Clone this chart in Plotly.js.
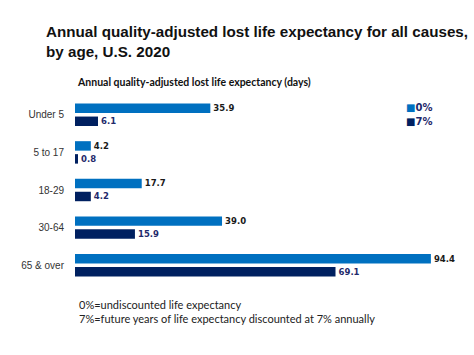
<!DOCTYPE html>
<html><head><meta charset="utf-8">
<script src="https://cdn.plot.ly/plotly-3.0.1.min.js"></script>
<style>html,body{margin:0;padding:0;background:#fff}#c{width:474px;height:355px}</style>
</head><body><div id="c"></div>
<script>
const categories = ["Under 5", "5 to 17", "18-29", "30-64", "65 & over"];
const seriesNames = ["0%", "7%"];
const values0 = [35.9, 4.2, 17.7, 39.0, 94.4];
const values7 = [6.1, 0.8, 4.2, 15.9, 69.1];
const colors = ["#0070C0", "#002060"];
const labelColors = ["#1a1a1a", "#1F2A6B"];

const sans = "'Liberation Sans', Arial, sans-serif";
const verd = "'DejaVu Sans', Verdana, sans-serif";
const cal = "Lato, 'Open Sans', sans-serif";

function mk(name, vals, i) {
  return {
    type: 'bar', orientation: 'h', name: name,
    x: vals, y: categories,
    marker: {color: colors[i]},
    text: vals.map(v => v.toFixed(1)),
    textposition: 'outside',
    textfont: {family: verd, size: 9, color: labelColors[i], weight: 'bold'},
    cliponaxis: false, hoverinfo: 'none'
  };
}
const data = [mk(seriesNames[0], values0, 0), mk(seriesNames[1], values7, 1)];

// plot area: x 75..452, y 96..284
const py = px => (284 - px) / 188;
const legendAnn = seriesNames.map((n, i) => ({
  xref: 'paper', yref: 'paper', x: 0.873, y: 1 - (0.06 + 0.075 * i), xanchor: 'left', yanchor: 'middle',
  showarrow: false,
  text: "<span style='color:" + colors[i] + "'>■</span>" + n,
  font: {family: verd, size: 10, color: '#1F2A6B', weight: 'bold'}
}));

const layout = {
  width: 474, height: 355,
  margin: {l: 75, r: 22, t: 96, b: 71},
  paper_bgcolor: '#fff', plot_bgcolor: '#fff',
  showlegend: false,
  barmode: 'group', bargap: 0.31, bargroupgap: 0.27,
  title: {
    text: "Annual quality-adjusted lost life expectancy for all causes,<br>by age, U.S. 2020",
    xref: 'container', yref: 'container', x: 46/474, xanchor: 'left', y: 1 - 37/355, yanchor: 'top',
    font: {family: sans, size: 15.2, color: '#111', weight: 'bold'}
  },
  xaxis: {range: [0, 100], visible: false, fixedrange: true},
  yaxis: {
    type: 'category', autorange: 'reversed', showline: false, showgrid: false, zeroline: false,
    ticks: 'outside', ticklen: 8, tickcolor: 'rgba(0,0,0,0)',
    tickfont: {family: sans, size: 10, color: '#333'}
  },
  annotations: [
    {xref: 'paper', yref: 'paper', x: 0, y: 1.075, xanchor: 'left', yanchor: 'middle', showarrow: false,
     text: "Annual quality-adjusted lost life expectancy (days)",
     font: {family: cal, size: 10.5, color: '#111', weight: 'bold'}},
    {xref: 'paper', yref: 'paper', x: 0.004, y: py(304), xanchor: 'left', yanchor: 'middle', showarrow: false,
     text: "0%=undiscounted life expectancy",
     font: {family: cal, size: 11, color: '#222'}},
    {xref: 'paper', yref: 'paper', x: 0.004, y: py(318), xanchor: 'left', yanchor: 'middle', showarrow: false,
     text: "7%=future years of life expectancy discounted at 7% annually",
     font: {family: cal, size: 11, color: '#222'}}
  ].concat(legendAnn)
};
Plotly.newPlot('c', data, layout, {displayModeBar: false, staticPlot: true});
</script></body></html>
